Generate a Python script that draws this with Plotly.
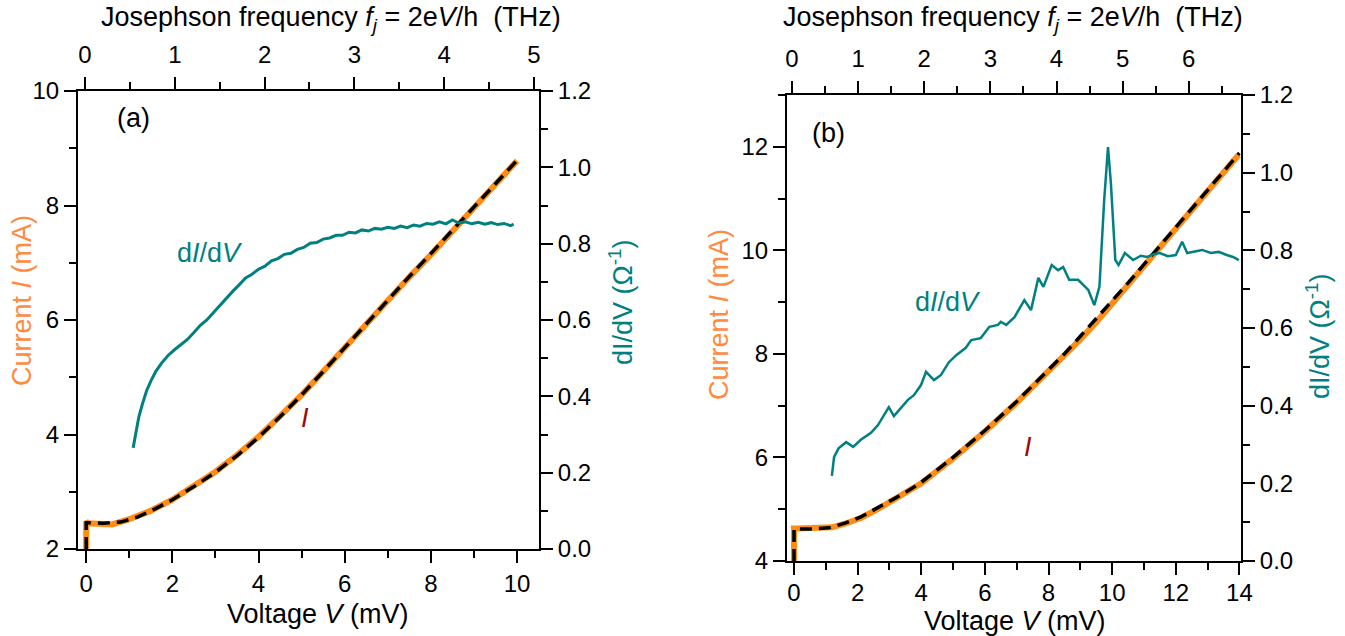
import plotly.graph_objects as go

W, H = 1345, 636

# ---------------- Panel (a) data ----------------
Va_I = [0, 0, 0.05, 0.3, 0.6, 1.0, 1.5, 2.0, 2.5, 3.0, 3.5, 4.0, 4.5, 5.0, 5.5, 6.0, 6.5,
        7.0, 7.5, 8.0, 8.5, 9.0, 9.5, 10.0]
Ia = [2.0, 2.48, 2.45, 2.44, 2.43, 2.52, 2.67, 2.86, 3.09, 3.35, 3.64, 3.96, 4.32, 4.69,
      5.1, 5.52, 5.94, 6.35, 6.75, 7.14, 7.54, 7.96, 8.37, 8.78]
Va_fit = [0, 0, 0.1, 0.4, 0.8, 1.2, 1.6, 2.0, 2.5, 3.0, 3.5, 4.0, 4.5, 5.0, 5.5, 6.0, 6.5,
          7.0, 7.5, 8.0, 8.5, 9.0, 9.5, 10.0]
Ia_fit = [2.0, 2.46, 2.46, 2.45, 2.47, 2.56, 2.7, 2.86, 3.09, 3.34, 3.63, 3.95, 4.31, 4.69,
          5.1, 5.52, 5.94, 6.35, 6.76, 7.16, 7.56, 7.97, 8.38, 8.79]
Va_G = [1.09, 1.15, 1.22, 1.3, 1.4, 1.5, 1.62, 1.75, 1.9, 2.05, 2.2, 2.35, 2.5, 2.65, 2.8,
        2.95, 3.1, 3.25, 3.4, 3.55, 3.7, 3.85, 4.0, 4.15, 4.3, 4.45, 4.6, 4.75, 4.9, 5.05,
        5.2, 5.35, 5.5, 5.65, 5.8, 5.95, 6.1, 6.25, 6.4, 6.55, 6.7, 6.85, 7.0, 7.15, 7.3,
        7.45, 7.6, 7.75, 7.9, 8.05, 8.2, 8.35, 8.5, 8.65, 8.8, 8.95, 9.1, 9.25, 9.4, 9.55,
        9.7, 9.85, 9.92]
Ga = [0.265, 0.305, 0.345, 0.378, 0.414, 0.44, 0.466, 0.487, 0.507, 0.522, 0.535, 0.549,
      0.567, 0.586, 0.6, 0.619, 0.636, 0.656, 0.675, 0.692, 0.71, 0.72, 0.733, 0.741,
      0.755, 0.761, 0.772, 0.775, 0.785, 0.79, 0.801, 0.803, 0.812, 0.815, 0.822, 0.822,
      0.83, 0.828, 0.836, 0.833, 0.84, 0.838, 0.843, 0.84, 0.846, 0.842, 0.849, 0.846,
      0.853, 0.851, 0.857, 0.852, 0.862, 0.854, 0.857, 0.852, 0.856, 0.851, 0.855, 0.85,
      0.853, 0.847, 0.851]

# ---------------- Panel (b) data ----------------
Vb_I = [0, 0, 0.05, 0.6, 1.2, 1.6, 2.1, 2.6, 3.14, 3.6, 4.0, 5.0, 6.0, 7.0, 8.0, 8.5,
        9.0, 9.5, 9.75, 10.5, 11.2, 12.0, 13.0, 13.97]
Ib = [4.0, 4.63, 4.63, 4.63, 4.65, 4.72, 4.83, 4.99, 5.18, 5.34, 5.5, 5.98, 6.5, 7.06,
      7.66, 7.97, 8.28, 8.61, 8.79, 9.33, 9.84, 10.42, 11.14, 11.84]
Vb_fit = [0, 0, 0.05, 0.6, 1.1, 1.6, 2.1, 2.6, 3.14, 3.6, 4.0, 5.0, 6.0, 7.0, 8.0, 8.5,
          9.0, 9.5, 10.0, 10.5, 11.2, 12.0, 13.0, 14.0]
Ib_fit = [4.0, 4.62, 4.62, 4.62, 4.64, 4.73, 4.85, 5.01, 5.2, 5.36, 5.52, 6.0, 6.52, 7.08,
          7.68, 8.0, 8.34, 8.68, 9.02, 9.37, 9.87, 10.45, 11.16, 11.88]
Vb_G = [1.19, 1.26, 1.4, 1.64, 1.86, 2.1, 2.42, 2.64, 2.98, 3.14, 3.58, 3.77, 3.99, 4.15,
        4.4, 4.62, 4.87, 5.1, 5.4, 5.57, 5.87, 6.14, 6.41, 6.5, 6.67, 6.93, 7.24, 7.45,
        7.68, 7.84, 8.1, 8.3, 8.46, 8.65, 8.93, 9.25, 9.44, 9.6, 9.75, 9.87, 9.96, 10.1,
        10.2, 10.4, 10.66, 10.9, 11.1, 11.3, 11.5, 11.75, 12.0, 12.2, 12.36, 12.6, 12.83,
        13.1, 13.35, 13.6, 13.8, 13.98]
Gb = [0.219, 0.268, 0.29, 0.306, 0.294, 0.312, 0.33, 0.35, 0.396, 0.373, 0.415, 0.427,
      0.453, 0.487, 0.466, 0.479, 0.512, 0.53, 0.549, 0.569, 0.574, 0.603, 0.608, 0.616,
      0.608, 0.628, 0.672, 0.646, 0.729, 0.706, 0.762, 0.749, 0.757, 0.724, 0.724, 0.698,
      0.659, 0.706, 0.93, 1.066, 0.973, 0.775, 0.762, 0.793, 0.775, 0.786, 0.783, 0.79,
      0.793, 0.785, 0.788, 0.822, 0.793, 0.797, 0.801, 0.793, 0.796, 0.788, 0.783, 0.775]

# tick values
a_xticks = [0, 2, 4, 6, 8, 10]
a_yticks = [2, 4, 6, 8, 10]
a_gticks = [0.0, 0.2, 0.4, 0.6, 0.8, 1.0, 1.2]
a_fticks = [0, 1, 2, 3, 4, 5]
b_xticks = [0, 2, 4, 6, 8, 10, 12, 14]
b_yticks = [4, 6, 8, 10, 12]
b_gticks = [0.0, 0.2, 0.4, 0.6, 0.8, 1.0, 1.2]
b_fticks = [0, 1, 2, 3, 4, 5, 6]

ORANGE = "#FF8C14"
ORANGE_T = "#FF8A40"
TEAL = "#008080"
DARKRED = "#9B0A0A"
FONT = "Liberation Sans, Arial, sans-serif"
TICK_SIZE = 24
TITLE_SIZE = 27


def px(x):
    return x / W


def py(y):
    return 1 - y / H


fig = go.Figure()

# panel a
fig.add_trace(go.Scatter(x=Va_I, y=Ia, mode="lines", line=dict(color=ORANGE, width=6),
                         xaxis="x", yaxis="y", showlegend=False))
fig.add_trace(go.Scatter(x=Va_fit, y=Ia_fit, mode="lines",
                         line=dict(color="black", width=3.5, dash="12px,7px"),
                         xaxis="x", yaxis="y", showlegend=False))
fig.add_trace(go.Scatter(x=Va_G, y=Ga, mode="lines", line=dict(color=TEAL, width=3),
                         xaxis="x", yaxis="y2", showlegend=False))
fig.add_trace(go.Scatter(x=[], y=[], xaxis="x2", yaxis="y", showlegend=False))

# panel b
fig.add_trace(go.Scatter(x=Vb_I, y=Ib, mode="lines", line=dict(color=ORANGE, width=6),
                         xaxis="x3", yaxis="y3", showlegend=False))
fig.add_trace(go.Scatter(x=Vb_fit, y=Ib_fit, mode="lines",
                         line=dict(color="black", width=3.5, dash="12px,7px"),
                         xaxis="x3", yaxis="y3", showlegend=False))
fig.add_trace(go.Scatter(x=Vb_G, y=Gb, mode="lines", line=dict(color=TEAL, width=2.5),
                         xaxis="x3", yaxis="y4", showlegend=False))
fig.add_trace(go.Scatter(x=[], y=[], xaxis="x4", yaxis="y3", showlegend=False))


def ax(rng, tickvals, minor_dtick, minor_tick0, fmt=None, **kw):
    d = dict(range=rng, tickmode="array", tickvals=tickvals, showline=True, linewidth=2,
             linecolor="black", ticks="outside", ticklen=12, tickwidth=2, tickcolor="black",
             showgrid=False, zeroline=False, automargin=False,
             tickfont=dict(family=FONT, size=TICK_SIZE, color="black"),
             minor=dict(ticks="outside", ticklen=7, tickwidth=2, tickcolor="black",
                        dtick=minor_dtick, tick0=minor_tick0, showgrid=False))
    if fmt:
        d["tickformat"] = fmt
    d.update(kw)
    return d


adx = [px(78), px(539)]
ady = [py(549), py(91)]
bdx = [px(787), px(1241)]
bdy = [py(561), py(95)]

fig.update_layout(
    width=W, height=H, margin=dict(l=0, r=0, t=0, b=0),
    paper_bgcolor="white", plot_bgcolor="white",
    font=dict(family=FONT, size=TICK_SIZE, color="black"),
    xaxis=ax([-0.19, 10.51], a_xticks, 1, 0, domain=adx, anchor="y"),
    yaxis=ax([2, 10], a_yticks, 1, 0, domain=ady, anchor="x"),
    yaxis2=ax([0, 1.2], a_gticks, 0.1, 0, fmt=".1f", overlaying="y", side="right",
              anchor="x"),
    xaxis2=ax([-0.078, 5.056], a_fticks, 0.5, 0, overlaying="x", side="top", anchor="y",
              ticklabelstandoff=4),
    xaxis3=ax([-0.22, 14.05], b_xticks, 1, 0, domain=bdx, anchor="y3",
              ticklabelstandoff=-3),
    yaxis3=ax([4, 13], b_yticks, 1, 0, domain=bdy, anchor="x3"),
    yaxis4=ax([0, 1.2], b_gticks, 0.1, 0, fmt=".1f", overlaying="y3", side="right",
              anchor="x3"),
    xaxis4=ax([-0.076, 6.79], b_fticks, 0.5, 0, overlaying="x3", side="top", anchor="y3",
              ticklabelstandoff=4),
)

NB = "\u00a0"
top_title = "Josephson frequency <i>f</i><sub><i>j</i></sub>" + NB + "= 2e<i>V</i>/h" + NB * 2 + "(THz)"
annots = [
    # panel a
    dict(x=px(331), y=py(19), text=top_title),
    dict(x=px(318), y=py(614), text="Voltage <i>V</i> (mV)"),
    dict(x=px(22), y=py(301), text="Current <i>I</i> (mA)", textangle=-90, color=ORANGE_T),
    dict(x=px(621), y=py(302), text="dI/dV (Ω<sup>-1</sup>)", textangle=-90, color=TEAL),
    dict(x=px(133), y=py(118), text="(a)"),
    dict(x=px(210), y=py(253), text="d<i>I</i>/d<i>V</i>", color=TEAL),
    dict(x=px(305), y=py(418), text="<i>I</i>", color=DARKRED),
    # panel b
    dict(x=px(1013), y=py(19), text=top_title),
    dict(x=px(1015), y=py(621), text="Voltage <i>V</i> (mV)"),
    dict(x=px(719), y=py(315), text="Current <i>I</i> (mA)", textangle=-90, color=ORANGE_T),
    dict(x=px(1318), y=py(336), text="dI/dV (Ω<sup>-1</sup>)", textangle=-90, color=TEAL),
    dict(x=px(828), y=py(133), text="(b)"),
    dict(x=px(948), y=py(302), text="d<i>I</i>/d<i>V</i>", color=TEAL),
    dict(x=px(1028), y=py(447), text="<i>I</i>", color=DARKRED),
]
for a in annots:
    col = a.pop("color", "black")
    ang = a.pop("textangle", 0)
    fig.add_annotation(xref="paper", yref="paper", xanchor="center", yanchor="middle",
                       showarrow=False, textangle=ang,
                       font=dict(family=FONT, size=TITLE_SIZE, color=col), **a)

# remove the browser's default 8px body margin so the figure fills the window exactly
fig.write_html("out.html", config={"displayModeBar": False},
               post_script="document.body.style.margin='0';document.body.style.overflow='hidden';")
